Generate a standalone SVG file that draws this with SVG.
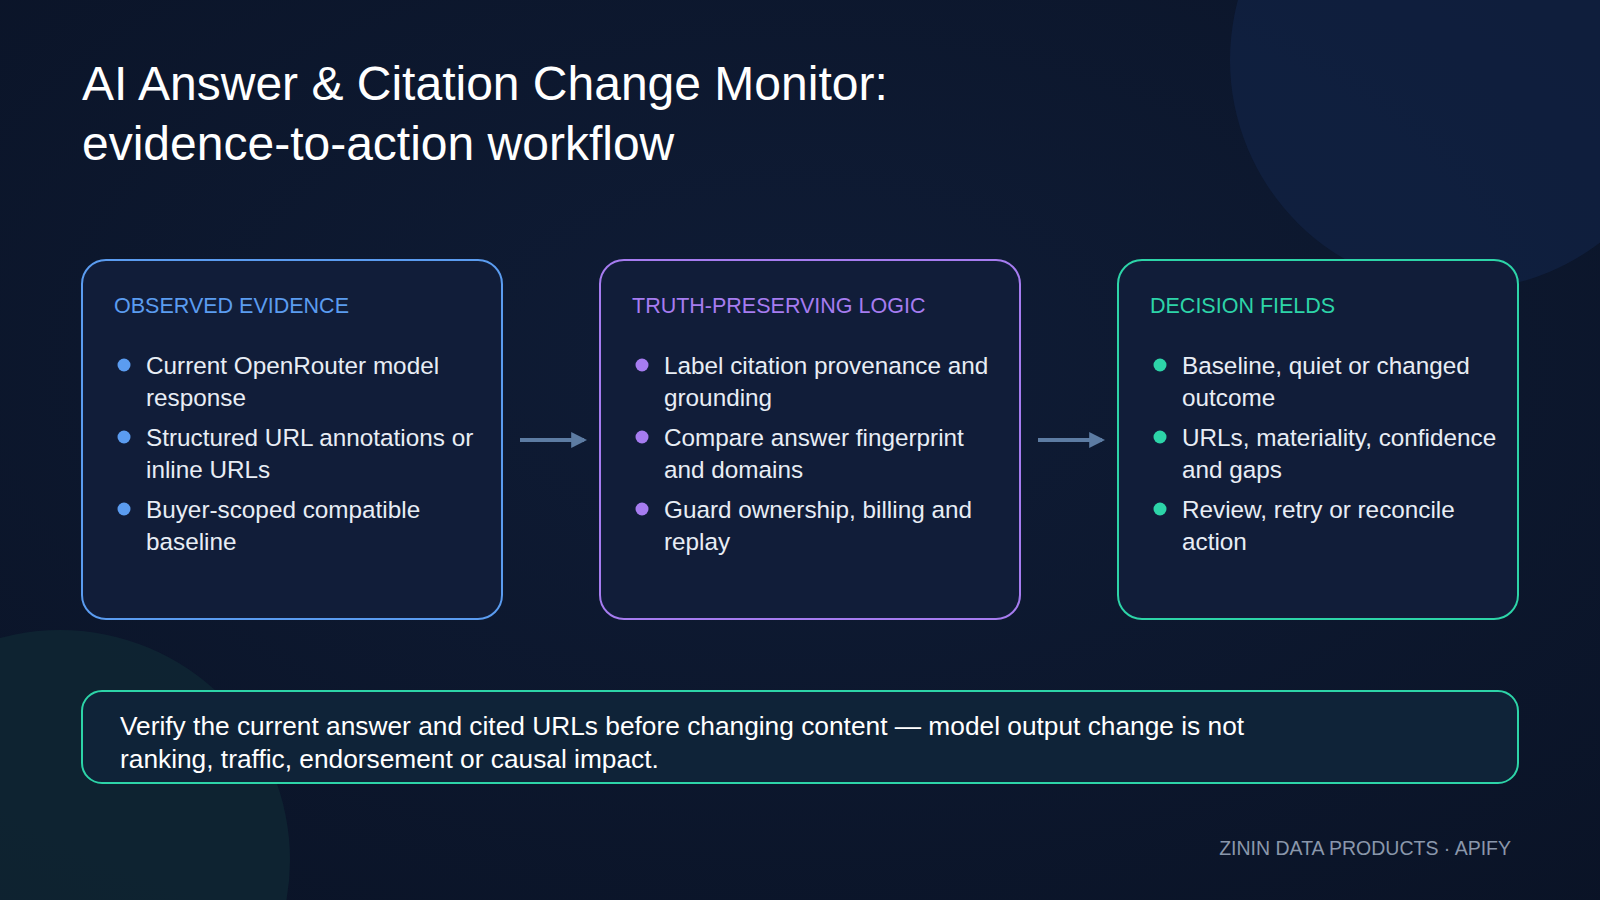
<svg xmlns="http://www.w3.org/2000/svg" width="1600" height="900" viewBox="0 0 1600 900">
<defs>
<radialGradient id="bg" cx="0.5" cy="0.4" r="0.8"><stop offset="0" stop-color="#0f1c36"/><stop offset="1" stop-color="#0a1326"/></radialGradient>
<marker id="ah" viewBox="0 0 10 10" refX="8" refY="5" markerWidth="4" markerHeight="4" orient="auto"><path d="M0,0 L10,5 L0,10 z" fill="#5d7ca3"/></marker>
<style>
text{font-family:"Liberation Sans",Arial,sans-serif}
.t{fill:#ffffff;font-size:48px}
.h{font-size:21.5px}
.b{fill:#e8edf5;font-size:24.3px}
.box{fill:#111d39;stroke-width:2}
.c{stroke:#5d7ca3;stroke-width:4;fill:none;marker-end:url(#ah)}
</style>
</defs>
<rect width="1600" height="900" fill="url(#bg)"/>
<circle cx="1460" cy="60" r="230" fill="#13244a" opacity="0.6"/>
<circle cx="60" cy="860" r="230" fill="#0f2a35" opacity="0.7"/>
<text class="t" x="82" y="100">AI Answer &amp; Citation Change Monitor:</text>
<text class="t" x="82" y="160">evidence-to-action workflow</text>
<g id="connectors">
<line class="c" x1="520" y1="440" x2="584" y2="440"/>
<line class="c" x1="1038" y1="440" x2="1102" y2="440"/>
</g>
<g id="n1">
<rect class="box" x="82" y="260" width="420" height="359" rx="24" stroke="#5b9cf0"/>
<text class="h" x="114" y="313" fill="#5b9cf0">OBSERVED EVIDENCE</text>
<g fill="#5b9cf0"><circle cx="124" cy="365" r="6.5"/><circle cx="124" cy="437" r="6.5"/><circle cx="124" cy="509" r="6.5"/></g>
<text class="b"><tspan x="146" y="374">Current OpenRouter model</tspan><tspan x="146" y="406">response</tspan><tspan x="146" y="446">Structured URL annotations or</tspan><tspan x="146" y="478">inline URLs</tspan><tspan x="146" y="518">Buyer-scoped compatible</tspan><tspan x="146" y="550">baseline</tspan></text>
</g>
<g id="n2">
<rect class="box" x="600" y="260" width="420" height="359" rx="24" stroke="#a67cf0"/>
<text class="h" x="632" y="313" fill="#a67cf0">TRUTH-PRESERVING LOGIC</text>
<g fill="#a67cf0"><circle cx="642" cy="365" r="6.5"/><circle cx="642" cy="437" r="6.5"/><circle cx="642" cy="509" r="6.5"/></g>
<text class="b"><tspan x="664" y="374">Label citation provenance and</tspan><tspan x="664" y="406">grounding</tspan><tspan x="664" y="446">Compare answer fingerprint</tspan><tspan x="664" y="478">and domains</tspan><tspan x="664" y="518">Guard ownership, billing and</tspan><tspan x="664" y="550">replay</tspan></text>
</g>
<g id="n3">
<rect class="box" x="1118" y="260" width="400" height="359" rx="24" stroke="#2dd4a8"/>
<text class="h" x="1150" y="313" fill="#2dd4a8">DECISION FIELDS</text>
<g fill="#2dd4a8"><circle cx="1160" cy="365" r="6.5"/><circle cx="1160" cy="437" r="6.5"/><circle cx="1160" cy="509" r="6.5"/></g>
<text class="b"><tspan x="1182" y="374">Baseline, quiet or changed</tspan><tspan x="1182" y="406">outcome</tspan><tspan x="1182" y="446">URLs, materiality, confidence</tspan><tspan x="1182" y="478">and gaps</tspan><tspan x="1182" y="518">Review, retry or reconcile</tspan><tspan x="1182" y="550">action</tspan></text>
</g>
<g id="note">
<rect x="82" y="691" width="1436" height="92" rx="20" fill="#0f2338" stroke="#2dd4a8" stroke-width="2"/>
<text fill="#ffffff" font-size="26.3"><tspan x="120" y="735">Verify the current answer and cited URLs before changing content — model output change is not</tspan><tspan x="120" y="768">ranking, traffic, endorsement or causal impact.</tspan></text>
</g>
<text x="1511" y="855" text-anchor="end" fill="#8a97ab" font-size="19.5">ZININ DATA PRODUCTS · APIFY</text>
</svg>
